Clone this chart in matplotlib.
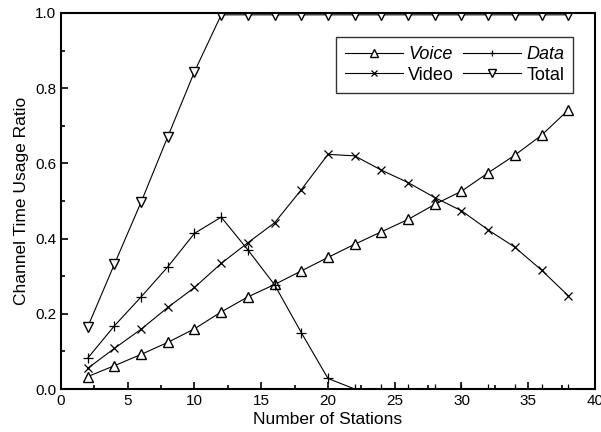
import matplotlib
matplotlib.use("Agg")
import matplotlib.pyplot as plt
from matplotlib.ticker import MultipleLocator

stations = [2, 4, 6, 8, 10, 12, 14, 16, 18, 20, 22, 24, 26, 28, 30, 32, 34, 36, 38]
voice = [0.033, 0.062, 0.092, 0.124, 0.160, 0.205, 0.245, 0.278, 0.314, 0.350,
         0.385, 0.418, 0.451, 0.491, 0.526, 0.575, 0.622, 0.675, 0.742]
data = [0.082, 0.168, 0.245, 0.325, 0.414, 0.457, 0.370, 0.277, 0.150, 0.028,
        0.0, 0.0, 0.0, 0.0, 0.0, 0.0, 0.0, 0.0, 0.0]
video = [0.055, 0.108, 0.159, 0.217, 0.270, 0.334, 0.389, 0.442, 0.530, 0.624,
         0.620, 0.582, 0.549, 0.509, 0.474, 0.423, 0.377, 0.316, 0.248]
total = [0.165, 0.332, 0.497, 0.671, 0.844, 0.995, 0.995, 0.995, 0.995, 0.995,
         0.995, 0.995, 0.995, 0.995, 0.995, 0.995, 0.995, 0.995, 0.995]

plt.rcParams['font.family'] = ['Liberation Sans', 'DejaVu Sans']

fig = plt.figure(figsize=(6.01, 4.32), dpi=100)
ax = fig.add_axes([0.1015, 0.0995, 0.8885, 0.8705])

lw = 0.8
ms = 7.5
h_voice, = ax.plot(stations, voice, color='black', lw=lw, marker='^', ms=ms,
                   mfc='white', mec='black', mew=1.0, label='Voice')
h_data, = ax.plot(stations, data, color='black', lw=lw, marker='+', ms=ms - 0.5,
                  mew=0.9, label='Data')
h_video, = ax.plot(stations, video, color='black', lw=lw, marker='x', ms=ms - 1.5,
                   mew=0.9, label='Video')
h_total, = ax.plot(stations, total, color='black', lw=lw, marker='v', ms=ms,
                   mfc='white', mec='black', mew=1.0, label='Total')

ax.set_xlim(0, 40)
ax.set_ylim(0, 1.0)
ax.xaxis.set_major_locator(MultipleLocator(5))
ax.xaxis.set_minor_locator(MultipleLocator(2.5))
ax.yaxis.set_major_locator(MultipleLocator(0.2))
ax.yaxis.set_minor_locator(MultipleLocator(0.1))
ax.yaxis.set_major_formatter(matplotlib.ticker.FormatStrFormatter('%.1f'))
ax.tick_params(which='both', direction='in', top=False, right=False,
               labelsize=11, width=1.2)
ax.tick_params(which='major', length=5)
ax.tick_params(which='minor', length=3)
for s in ax.spines.values():
    s.set_linewidth(1.5)

ax.set_xlabel('Number of Stations', fontsize=12.5, labelpad=3)
ax.set_ylabel('Channel Time Usage Ratio', fontsize=12.5, labelpad=4)

leg = ax.legend([h_voice, h_video, h_data, h_total],
                ['Voice', 'Video', 'Data', 'Total'],
                ncol=2, loc='upper left',
                bbox_to_anchor=(0.515, 0.936),
                fontsize=13, frameon=True, fancybox=False, edgecolor='black',
                handlelength=3.2, columnspacing=0.5, handletextpad=0.3,
                borderpad=0.5, borderaxespad=0.0, labelspacing=0.2,
                markerscale=0.7)
leg.get_frame().set_linewidth(1.0)
for t in leg.get_texts():
    if t.get_text() in ('Voice', 'Data'):
        t.set_fontstyle('italic')

fig.savefig('out.png', dpi=100)
